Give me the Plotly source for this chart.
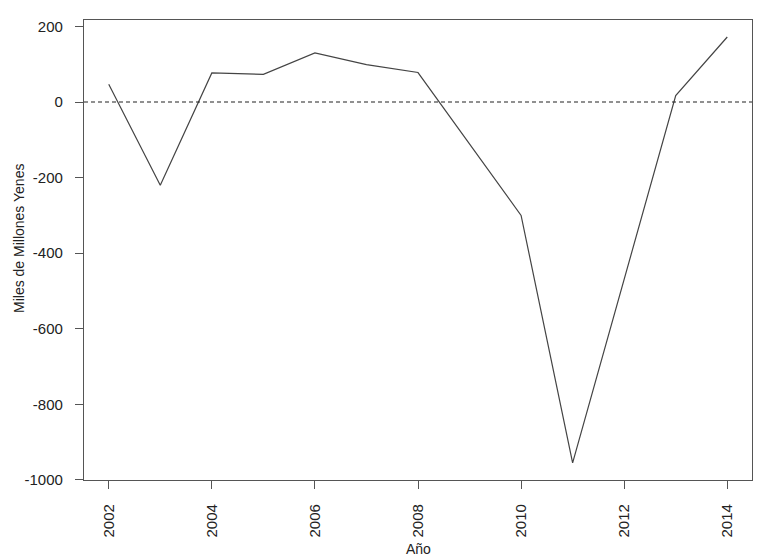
import plotly.graph_objects as go

years = [2002, 2003, 2004, 2005, 2006, 2007, 2008, 2009, 2010, 2011, 2012, 2013, 2014]
values = [47, -220, 77, 73, 130, 99, 78, -111, -300, -955, -470, 17, 172]
x_ticks = [2002, 2004, 2006, 2008, 2010, 2012, 2014]
y_ticks = [-1000, -800, -600, -400, -200, 0, 200]

FONT = "Liberation Sans, Arial, sans-serif"

fig = go.Figure()
fig.add_trace(go.Scatter(x=years, y=values, mode="lines",
                         line=dict(color="#444444", width=1.2),
                         showlegend=False, hoverinfo="x+y"))
fig.add_hline(y=0, line=dict(color="#222222", width=1.2, dash="4px,3px"))

axis_common = dict(showgrid=False, zeroline=False, showline=True, mirror=True,
                   linecolor="#555555", linewidth=1.2, ticks="outside", ticklen=8,
                   tickwidth=1, tickcolor="#555555",
                   tickfont=dict(family=FONT, size=15, color="#222222"))

fig.update_xaxes(range=[2001.52, 2014.48], tickvals=x_ticks,
                 ticktext=[str(v) for v in x_ticks], tickangle=-90,
                 ticklabelstandoff=9, **axis_common)
fig.update_yaxes(range=[-1000.2, 217], tickvals=y_ticks,
                 ticktext=[str(v) for v in y_ticks], ticklabelstandoff=9,
                 **axis_common)

fig.add_annotation(text="Año", xref="paper", yref="paper", x=0.5, y=0,
                   yshift=-69, showarrow=False, yanchor="middle",
                   font=dict(family=FONT, size=14, color="#222222"))
fig.add_annotation(text="Miles de Millones Yenes", xref="paper", yref="paper",
                   x=0, xshift=-65, y=0.5, yshift=11, textangle=-90,
                   showarrow=False, xanchor="center",
                   font=dict(family=FONT, size=14, color="#222222"))

fig.update_layout(width=758, height=559, autosize=False,
                  margin=dict(l=84, r=6, t=20, b=79),
                  plot_bgcolor="white", paper_bgcolor="white")

fig.write_html("out.html", config={"displayModeBar": False},
               post_script="document.body.style.margin='0px';document.body.style.overflow='hidden';")
